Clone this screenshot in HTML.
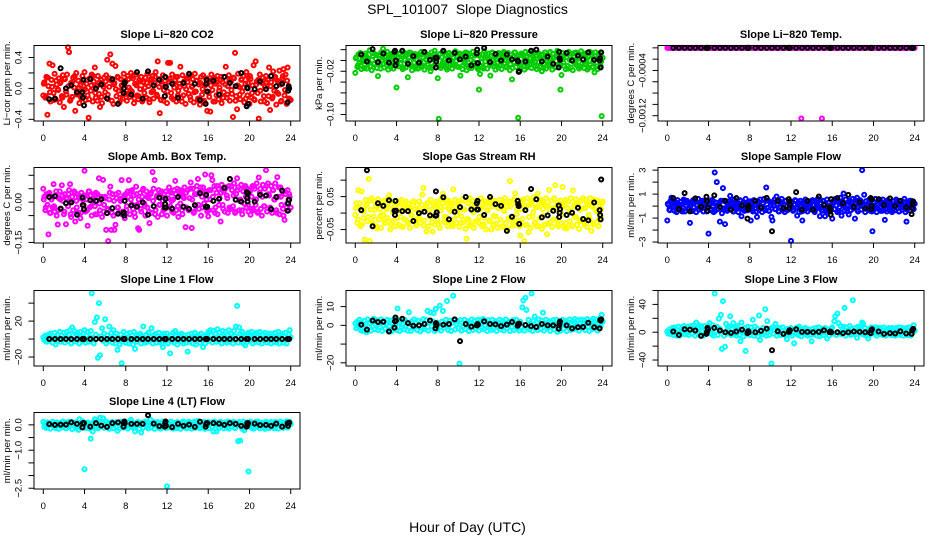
<!DOCTYPE html>
<html lang="en">
<head>
<meta charset="utf-8">
<title>SPL_101007 Slope Diagnostics</title>
<style>
html,body{margin:0;padding:0;background:#fff;}
svg{display:block;font-family:"Liberation Sans",Arial,sans-serif;}
text{fill:#000;white-space:pre;}
</style>
</head>
<body>
<svg id="chart" width="936" height="540" viewBox="0 0 936 540" xmlns="http://www.w3.org/2000/svg">
<text x="467.5" y="14" font-size="14" text-anchor="middle">SPL_101007  Slope Diagnostics</text>
<text x="467.5" y="532" font-size="14" text-anchor="middle">Hour of Day (UTC)</text>
</svg>
<script>
const hours=[
0,.1,.2,.3,.4,.5,.6,.7,.8,.9,1,1.1,1.2,1.3,1.4,1.5,1.6,1.7,1.8,1.9,
2,2.1,2.2,2.3,2.4,2.5,2.6,2.7,2.8,2.9,3,3.1,3.2,3.3,3.4,3.5,3.6,3.7,3.8,3.9,
4,4.1,4.2,4.3,4.4,4.5,4.6,4.7,4.8,4.9,5,5.1,5.2,5.3,5.4,5.5,5.6,5.7,5.8,5.9,
6,6.1,6.2,6.3,6.4,6.5,6.6,6.7,6.8,6.9,7,7.1,7.2,7.3,7.4,7.5,7.6,7.7,7.8,7.9,
8,8.1,8.2,8.3,8.4,8.5,8.6,8.7,8.8,8.9,9,9.1,9.2,9.3,9.4,9.5,9.6,9.7,9.8,9.9,
10,10.1,10.2,10.3,10.4,10.5,10.6,10.7,10.8,10.9,11,11.1,11.2,11.3,11.4,11.5,11.6,11.7,11.8,11.9,
12,12.1,12.2,12.3,12.4,12.5,12.6,12.7,12.8,12.9,13,13.1,13.2,13.3,13.4,13.5,13.6,13.7,13.8,13.9,
14,14.1,14.2,14.3,14.4,14.5,14.6,14.7,14.8,14.9,15,15.1,15.2,15.3,15.4,15.5,15.6,15.7,15.8,15.9,
16,16.1,16.2,16.3,16.4,16.5,16.6,16.7,16.8,16.9,17,17.1,17.2,17.3,17.4,17.5,17.6,17.7,17.8,17.9,
18,18.1,18.2,18.3,18.4,18.5,18.6,18.7,18.8,18.9,19,19.1,19.2,19.3,19.4,19.5,19.6,19.7,19.8,19.9,
20,20.1,20.2,20.3,20.4,20.5,20.6,20.7,20.8,20.9,21,21.1,21.2,21.3,21.4,21.5,21.6,21.7,21.8,21.9,
22,22.1,22.2,22.3,22.4,22.5,22.6,22.7,22.8,22.9,23,23.1,23.2,23.3,23.4,23.5,23.6,23.7,23.8,23.9,24];

const extraHours=[
.05,.25,.45,.65,.85,1.05,1.25,1.45,1.65,1.85,
2.05,2.25,2.45,2.65,2.85,3.05,3.25,3.45,3.65,3.85,
4.05,4.25,4.45,4.65,4.85,5.05,5.25,5.45,5.65,5.85,
6.05,6.25,6.45,6.65,6.85,7.05,7.25,7.45,7.65,7.85,
8.05,8.25,8.45,8.65,8.85,9.05,9.25,9.45,9.65,9.85,
10.05,10.25,10.45,10.65,10.85,11.05,11.25,11.45,11.65,11.85,
12.05,12.25,12.45,12.65,12.85,13.05,13.25,13.45,13.65,13.85,
14.05,14.25,14.45,14.65,14.85,15.05,15.25,15.45,15.65,15.85,
16.05,16.25,16.45,16.65,16.85,17.05,17.25,17.45,17.65,17.85,
18.05,18.25,18.45,18.65,18.85,19.05,19.25,19.45,19.65,19.85,
20.05,20.25,20.45,20.65,20.85,21.05,21.25,21.45,21.65,21.85,
22.05,22.25,22.45,22.65,22.85,23.05,23.25,23.45,23.65,23.85];

const blackHours=[.58,1.13,1.68,2.2,2.72,3.27,3.8,3.85,3.9,3.95,4.56,5.11,5.63,6.18,6.7,7.25,7.78,7.82,7.86,7.9,8.54,9.09,9.64,10.16,10.71,11.26,11.78,11.82,11.86,11.9,12.5,13.07,13.6,14.14,14.7,15.2,15.75,15.8,15.85,15.9,16.5,17.05,17.56,18.1,18.66,19.2,19.73,19.78,19.82,19.86,20.5,21.03,21.6,22.1,22.6,23.17,23.7,23.75,23.8,23.85];

const xTicks=[0,4,8,12,16,20,24];
const noExtra=[];

const co2Values=[
-.09,.08,-.12,.15,-.34,.03,.32,-.17,.11,.30,-.06,.19,-.14,.05,-.01,.13,-.18,.09,-.10,.17,
-.24,.12,-.04,.18,.53,.47,-.16,.07,-.11,.14,.01,-.29,.2,-.08,.1,-.19,.04,-.13,.16,-.02,
.21,-.15,.06,-.09,-.38,.13,-.03,.18,-.17,.09,.27,-.12,.03,.16,-.07,-.24,.11,-.19,.05,.14,
-.05,.17,.37,-.14,.02,.44,.1,.32,-.2,.07,.29,-.1,.15,-.03,-.18,.12,.04,-.13,.19,-.07,
.09,-.16,.16,.01,-.11,.2,-.04,.13,-.19,.06,.18,-.09,-.14,.11,-.01,.15,-.17,.08,-.06,.14,
-.12,.19,.03,-.18,.1,-.05,.16,-.13,.07,.21,-.08,.35,.12,-.32,-.15,.05,.17,-.02,-.1,.14,
-.19,.33,.09,.33,-.06,.18,-.14,.01,.11,-.17,.15,-.03,.06,.28,-.12,.17,-.09,.03,-.2,.13,
.08,-.07,.16,-.15,.02,.12,-.18,.19,-.04,.1,-.13,.05,-.21,.15,-.08,.17,-.16,.04,.12,-.29,
.1,-.11,-.3,.18,-.02,-.17,.14,.06,-.09,.16,-.14,.01,.11,-.19,.08,-.05,.15,.28,-.12,.03,
.17,-.16,.09,-.07,-.37,.13,.46,-.1,-.27,.19,.02,-.14,.11,-.04,.16,-.18,.06,.21,-.09,.14,
-.2,.12,-.12,.04,.3,-.15,.35,.09,-.06,-.39,.18,-.17,.07,.14,-.1,.02,.16,-.19,.11,.27,
-.28,.08,-.13,.22,-.03,.15,-.21,.1,-.07,.23,.05,-.16,.13,.25,-.09,.18,-.2,.27,.01,-.14,-.15];
const co2Extra=[
.06,-.1,.14,-.05,.02,-.15,.1,-.02,.07,-.12,
.13,-.08,.03,-.14,.09,.16,-.06,.01,-.11,.08,
-.01,.11,-.14,.04,.16,-.06,-.16,.08,-.11,.02,
.09,-.08,.13,-.16,.05,-.01,.14,-.12,.03,.1,
-.07,.12,-.02,.16,-.13,.04,-.1,.09,-.15,.01,
.07,-.14,.12,-.03,.15,-.1,.02,.09,-.16,.05,
-.04,.12,-.12,.06,.15,-.09,.02,-.17,.09,-.01,
.14,-.11,.03,-.05,.1,-.15,.07,-.01,-.18,.13,
-.06,.04,.12,-.17,.08,-.03,.15,-.12,.05,-.08,
.1,-.02,.14,-.16,.04,-.08,.12,.01,-.13,.07,
.16,-.06,-.14,.05,.11,-.03,.14,-.17,.08,-.1,
.03,-.11,.13,-.05,.08,-.17,.16,-.02,.1,-.13];
const co2Black=[-.14,-.13,.26,0,.04,-.05,-.05,-.12,.11,-.22,.12,0,.05,-.13,.12,-.2,-.06,0,.06,.08,-.08,.21,-.13,.22,.04,.11,-.1,.15,.02,.02,.06,-.12,.07,.19,.06,-.15,-.2,.06,.11,-.04,.1,-.08,.15,.07,.03,.2,-.23,.01,0,-.2,-.01,.09,-.01,.16,.03,.06,-.18,-.03,.03,0];
const co2Ticks=[.4,.2,0,-.2,-.4];
const co2TickLabels=['0.4','','0.0','','−0.4'];

const pressureValues=[
-.023,.006,-.012,.011,-.004,.014,-.016,.002,.009,-.008,.013,-.015,.004,-.002,.019,-.011,-.018,.008,-.006,.012,
.003,-.014,-.029,.01,-.007,.015,.001,.022,-.013,.007,-.003,.016,-.017,.005,-.009,.012,-.001,-.015,.009,.014,
-.05,.004,-.011,.013,-.006,.008,-.016,.015,.001,-.013,.01,-.031,.006,-.008,.014,-.018,.003,-.004,.012,-.012,
.007,-.015,.011,-.002,.016,-.009,.005,-.017,.013,.001,-.007,.01,-.013,-.02,.015,.003,-.01,.018,-.005,.008,
-.033,-.108,.012,-.014,.006,-.003,.016,-.011,.009,-.017,.002,.014,-.006,.011,-.015,.005,-.009,.017,-.001,.008,
-.012,.013,-.028,.004,-.016,.01,-.005,.015,-.018,.007,-.01,.012,.001,-.014,.016,-.003,.009,-.008,.014,-.016,
-.054,-.025,.005,.011,-.012,.017,-.002,.008,-.015,.013,.003,-.028,-.007,.015,-.011,.006,-.017,.01,-.004,.014,
-.009,.012,-.016,.002,.016,-.006,.009,-.013,.014,.001,-.018,.011,-.035,.007,-.003,.015,-.012,.005,-.106,.01,
-.015,.013,-.005,.008,-.017,.016,.001,-.01,.012,-.007,.004,-.014,.017,.002,-.011,.009,-.016,.014,-.003,.006,
-.012,-.02,.011,-.006,.015,-.015,.003,.009,-.009,.016,-.002,-.017,.012,.005,-.013,.008,.018,-.007,-.011,-.054,
-.027,.014,-.004,.01,-.016,.006,-.01,.016,.001,-.013,.012,-.018,.008,-.005,.015,-.009,.003,-.015,.011,.017,
-.006,.009,-.014,.013,-.001,-.017,.007,.016,-.008,.011,-.012,.004,-.022,.015,-.004,-.016,.012,.002,-.01,-.103,.005];
const pressureExtra=[
.004,-.009,.012,-.002,-.014,.008,.001,-.011,.014,-.006,
.01,-.004,-.015,.006,.013,-.008,.002,-.012,.011,-.001,
-.007,.012,.003,-.013,.009,-.003,.015,-.01,.005,-.015,
.011,-.005,-.012,.014,.002,-.008,.007,-.014,.012,-.002,
.006,-.01,.015,-.004,-.013,.009,.001,-.007,.013,-.011,
.003,.012,-.009,-.002,.014,-.014,.007,-.005,.011,-.012,
.009,-.003,-.015,.012,.004,-.009,.014,-.006,.002,-.013,
.01,-.001,.013,-.011,.005,-.007,-.014,.015,.003,-.004,
-.009,.011,.001,-.013,.014,-.006,.007,-.002,-.011,.012,
.004,-.014,.009,-.008,.015,-.003,.006,-.012,.013,-.005,
.002,-.01,.012,-.015,.007,-.001,.014,-.008,.004,-.012,
.011,-.006,.003,-.014,.015,-.003,.008,-.011,.013,-.002];
const pressureBlack=[.011,-.002,.021,-.003,.013,-.004,.016,.018,-.009,0,.018,-.006,.008,-.004,.016,.001,.005,-.013,-.002,.005,.018,0,.014,.002,.007,-.009,.013,.02,-.005,-.005,.023,-.003,.012,0,.011,.002,0,-.002,-.021,-.02,-.002,.018,.02,-.002,.007,-.006,-.013,.016,.004,.001,.014,0,.009,.002,.015,.001,0,.004,-.013,.015];
const pressureTicks=[.02,0,-.02,-.04,-.06,-.08,-.1];
const pressureTickLabels=['','','−0.02','','','','−0.10'];

const licorTempValues=[
0,0,0,0,0,0,0,0,0,0,0,0,0,0,0,0,0,0,0,0,
0,0,0,0,0,0,0,0,0,0,0,0,0,0,0,0,0,0,0,0,
0,0,0,0,0,0,0,0,0,0,0,0,0,0,0,0,0,0,0,0,
0,0,0,0,0,0,0,0,0,0,0,0,0,0,0,0,0,0,0,0,
0,0,0,0,0,0,0,0,0,0,0,0,0,0,0,0,0,0,0,0,
0,0,0,0,0,0,0,0,0,0,0,0,0,0,0,0,0,0,0,0,
0,0,0,0,0,0,0,0,0,0,-.00125,0,0,0,0,0,0,0,0,0,
0,0,0,0,0,0,0,0,0,0,-.00125,0,0,0,0,0,0,0,0,0,
0,0,0,0,0,0,0,0,0,0,0,0,0,0,0,0,0,0,0,0,
0,0,0,0,0,0,0,0,0,0,0,0,0,0,0,0,0,0,0,0,
0,0,0,0,0,0,0,0,0,0,0,0,0,0,0,0,0,0,0,0,
0,0,0,0,0,0,0,0,0,0,0,0,0,0,0,0,0,0,0,0,0];
const licorTempBlack=[0,0,0,0,0,0,0,0,0,0,0,0,0,0,0,0,0,0,0,0,0,0,0,0,0,0,0,0,0,0,0,0,0,0,0,0,0,0,0,0,0,0,0,0,0,0,0,0,0,0,0,0,0,0,0,0,0,0,0,0];
const licorTempTicks=[0,-.0002,-.0004,-.0006,-.0008,-.001,-.0012];
const licorTempTickLabels=['','','−0.0004','','','','−0.0012'];

const boxTempValues=[
.05,.02,-.03,.03,-.01,-.12,.035,-.04,.01,-.02,.067,-.035,.025,-.05,-.083,.015,.04,-.025,.063,.005,
-.045,.03,-.082,.012,-.015,.045,.067,-.055,.02,-.03,.04,-.072,.005,.03,-.04,.015,-.06,.035,-.01,.025,
.117,-.035,.01,-.088,.04,-.02,.025,-.05,.005,.03,-.015,.035,-.045,.02,.089,-.03,.012,-.055,.083,-.01,
.02,-.103,-.03,-.145,.01,.058,-.103,.03,-.05,-.103,-.084,.015,-.02,.035,-.04,.005,.082,-.035,.02,-.06,
.03,-.015,.04,.082,-.045,.01,.045,-.025,.025,-.055,.058,-.01,-.097,-.103,.035,-.035,.02,.05,-.005,-.05,
.04,-.02,.015,-.078,.03,-.04,.112,.05,.082,-.03,.02,-.055,.045,-.01,.035,-.045,.005,.03,-.025,.04,
-.05,.015,.055,-.015,.035,-.035,.01,.045,.079,-.03,.05,-.055,.025,-.005,.04,-.045,.02,.055,-.093,-.02,
.045,-.03,.015,.073,-.096,.05,-.04,.03,-.015,.06,.086,-.025,.04,-.05,.02,.055,-.005,.103,.035,-.035,
-.053,.045,.01,.1,.082,-.03,.06,-.02,.035,-.045,.05,.015,-.072,.065,-.01,.04,-.035,.055,.025,-.04,
.06,.086,-.025,.045,-.015,.07,-.04,.03,.089,.055,-.03,.01,.065,-.045,.04,-.005,.06,-.02,.05,-.035,
.045,-.047,.02,.06,-.03,.05,-.01,.07,-.04,.092,.035,-.025,-.05,.065,-.015,.05,.119,-.035,.07,.025,
-.02,.06,-.04,.045,.01,.07,-.03,.093,.02,-.045,.055,-.01,.04,-.05,-.066,.03,-.02,.045,-.03,.02,-.02];
const boxTempExtra=[
.01,-.02,.03,-.04,.02,-.015,.04,-.03,.01,.025,
-.035,.015,.03,-.045,.005,.035,-.02,.02,-.04,.01,
.025,-.03,.04,-.015,.01,-.045,.03,-.005,.02,-.035,
.015,-.025,.035,-.04,.005,.03,-.02,.012,-.045,.025,
-.03,.02,.04,-.01,-.04,.03,.01,-.025,.045,-.015,
.02,-.035,.035,.005,-.045,.025,-.01,.04,-.03,.015,
-.02,.04,.005,-.04,.03,-.015,.045,-.03,.015,.035,
-.025,.05,.01,-.035,.03,-.01,.055,-.02,.04,.01,
-.03,.045,.02,-.04,.06,-.01,.035,-.025,.05,.015,
-.02,.06,.025,-.035,.045,.005,-.03,.055,.02,-.01,
.04,-.025,.06,.01,-.035,.05,.02,-.015,.06,.03,
-.03,.045,.01,-.04,.055,.02,-.025,.04,-.005,.03];
const boxTempBlack=[.019,.022,-.024,-.004,-.001,-.047,.017,-.011,-.011,-.027,.007,.005,.011,-.041,-.022,-.043,-.041,-.038,-.05,.005,-.012,-.017,-.001,-.047,-.015,.017,-.02,-.007,.012,-.02,-.024,.019,-.017,-.025,-.011,.033,-.017,.027,-.017,-.017,.005,.012,.053,.086,.009,.002,.037,.016,.002,.033,.002,.027,.025,-.026,.019,.043,-.032,-.005,.009,.009];
const boxTempTicks=[.1,.05,0,-.05,-.1,-.15];
const boxTempTickLabels=['','','0.00','','','−0.15'];

const rhValues=[
-.005,.03,-.03,.069,.015,-.04,.066,.005,-.015,-.081,.04,.025,-.025,.104,-.085,.01,.045,-.035,-.01,.035,
.02,-.047,.042,-.02,.012,-.045,.03,-.005,.038,-.03,.02,-.015,.045,.054,-.05,.025,-.025,.01,.035,-.04,
.005,.03,-.035,.018,-.012,.04,-.042,.022,-.02,.035,.008,-.03,.028,-.045,.015,-.008,.034,-.025,.012,-.038,
.025,-.015,.036,-.03,.005,.056,.076,-.022,.018,-.056,.03,-.04,.01,.04,-.01,-.056,.025,-.035,.015,.035,
-.02,.03,-.045,.008,.045,.059,-.028,.02,-.012,.038,-.04,.012,.03,-.035,.025,.072,-.02,.04,-.03,.005,
.035,-.042,.018,-.01,.042,-.028,.01,-.048,-.078,.03,-.02,.045,-.035,.015,.038,-.045,.008,.028,-.025,.04,
-.03,.012,.045,-.04,.025,-.015,.035,-.05,.01,.03,-.025,.042,-.05,.02,-.035,.038,-.01,.025,-.045,.015,
.04,-.02,.03,-.042,.008,.045,-.03,.02,-.048,.035,.097,-.015,.028,-.038,.042,.06,-.025,.012,.04,-.04,
-.068,.03,-.018,.042,-.085,.015,-.035,.045,-.058,.025,-.045,.035,-.01,.048,-.03,.018,-.04,.059,.025,-.015,
.04,-.048,.012,.03,-.035,.045,-.064,.022,.07,-.028,.038,-.042,.015,.045,.085,-.02,.03,-.04,.01,.038,
-.03,.079,.025,-.045,.04,-.047,.015,.035,-.025,.045,-.038,.069,.02,-.012,.042,-.035,.028,-.048,.01,.038,
-.02,.045,-.03,.015,.04,-.042,.028,-.015,.045,-.054,.02,-.035,.04,.01,-.028,.038,-.04,.025,-.01,.03,.035];
const rhExtra=[
.015,-.02,.03,-.035,.005,.022,-.012,.038,-.028,.01,
-.04,.025,-.008,.032,-.022,.012,.04,-.032,.002,.02,
-.015,.035,-.04,.01,.028,-.025,.018,-.005,.036,-.03,
.008,-.018,.025,-.038,.014,.032,-.01,-.028,.022,.004,
-.035,.018,.03,-.012,-.025,.038,.006,-.04,.02,-.006,
.028,-.03,.012,.036,-.018,-.038,.024,.002,-.026,.033,
-.012,.018,-.035,.03,.008,-.022,.038,-.008,-.032,.015,
.026,-.04,.006,.034,-.016,.02,-.03,.04,-.004,-.024,
.012,.036,-.036,.022,-.012,.03,.002,-.028,.018,-.04,
.034,-.008,.024,-.032,.01,.038,-.02,.016,-.036,.028,
-.004,.02,-.03,.036,.006,-.04,.026,-.014,.032,-.024,
.014,-.036,.03,-.006,.022,-.03,.036,.004,-.02,.012];
const rhBlack=[.009,.13,-.04,.03,.022,.039,.007,-.006,.037,.007,.006,.006,-.024,0,.004,-.007,-.008,.066,-.007,.002,.048,-.019,.004,.018,.049,.011,.03,.011,.037,.011,-.006,.049,.027,.022,-.054,-.011,.037,.027,.021,-.033,.009,.073,.042,-.013,-.007,.007,.023,-.012,.001,.012,-.006,.001,.016,-.018,-.022,.032,.009,-.006,-.019,.102];
const rhTicks=[.1,.05,0,-.05];
const rhTickLabels=['','0.05','','−0.05'];

const sampleFlowValues=[
-1.2,.1,-.3,.4,.7,-.1,.3,-.4,.2,-.5,.5,0,-.2,.35,-.35,.15,.55,-.45,.05,.45,
-.25,.3,-1.4,.2,-.4,.5,-.1,.35,-.5,.1,.6,-.3,.25,-.2,.45,-.45,.05,.4,-.15,.3,
-2.3,.15,-.35,.5,-.05,-.5,2.8,.3,2,-.25,.1,-1.3,.45,-.6,1.5,-.2,-1.5,.35,-.4,.05,
.4,.85,-.3,.2,-.45,.55,0,-.15,.3,-.5,.15,.45,-.85,-.25,.25,-.4,.6,.05,-.35,.35,
-.1,-1.2,.2,-.45,.5,-.2,.1,-.9,.4,-.3,.55,-.05,-.5,.25,.6,-.35,1.55,-.15,.45,-.4,
.3,-.9,-1.2,.05,.55,-.25,.8,.2,-.45,.4,-.1,.6,-.35,.15,-.5,.45,0,-.3,.25,-.2,
-2.9,.35,-.4,.1,.5,-.15,-.8,.25,-.5,.45,-.25,-1.2,.3,-.35,.55,.05,-.45,.2,-.1,.4,
-.3,.5,.1,-.5,.35,-.2,.6,-.05,-.85,.25,-.4,.45,.15,-.85,-.3,.55,-.15,.3,-.45,.1,
-1.05,.4,-.25,.6,.05,-.5,.35,-.1,.7,-.8,.2,1.05,-.4,.55,-.2,.1,-.7,.45,-.35,.25,
.6,-.15,-1.05,.3,.7,-.45,.15,.5,-.3,3,.05,.95,-.5,.4,-.2,.25,.55,-.4,.1,-2.1,
.35,-.25,.6,-.5,.15,.45,-.1,-.4,.3,.55,-.3,-1.15,.2,-.45,.5,0,.35,-.2,-.5,.4,
.1,-.35,.55,-.15,.25,-.45,.45,.05,-.3,.35,.6,-.5,-1.3,.2,-.1,.45,-.4,.15,.3,-.25,.2];
const sampleFlowExtra=[
.2,-.35,.45,-.05,.3,-.2,.1,-.45,.4,0,
-.15,.25,-.4,.5,.05,-.3,.35,-.1,.2,-.45,
.15,-.25,.4,-.4,.05,.3,-.15,.45,-.3,.1,
-.05,.35,-.45,.2,-.2,.5,.05,-.35,.25,-.1,
.4,-.3,.1,-.45,.3,-.05,.2,-.2,.45,-.4,
.05,.35,-.25,.15,-.45,.3,-.1,.4,-.35,.2,
0,-.3,.45,-.15,.25,-.45,.1,.35,-.2,.05,
.4,-.4,.2,-.1,.5,-.3,.1,-.45,.3,-.05,
.25,-.25,.45,-.4,.15,.35,-.1,-.45,.3,.05,
-.2,.5,-.35,.1,.25,-.05,.4,-.3,.15,-.45,
.3,-.15,.05,.45,-.4,.2,-.25,.35,-.05,-.35,
.15,.4,-.45,.25,-.1,.3,-.3,.05,.45,-.2];
const sampleFlowBlack=[.67,-.25,1.08,-.44,.64,-.06,.78,.42,-.39,-.11,.89,-.08,.44,-.3,.67,.06,-1.05,-.06,-.25,.03,.44,-.14,.69,-2.1,.42,-.17,.58,-.17,.39,.11,1.17,-.3,.44,-.3,.8,.08,-.11,-.3,-.72,.58,.67,.25,.94,-.06,.33,-.19,.67,-.25,0,.56,.58,.08,.64,0,.42,-.11,-.67,-.17,.17,.39];
const sampleFlowTicks=[3,2,1,0,-1,-2,-3];
const sampleFlowTickLabels=['3','','1','','−1','','−3'];

const line1Values=[
2,-1,4,-3,1,5,-2,6,0,-4,3,7,-6,-2,5,1,8,-3,4,-1,
7,-4,2,8,-2,5,10,-5,13,-1,9,6,-3,7,1,-5,8,3,-2,6,
10,-4,4,8,-3,2,9,51,1,-5,19,5,24,-21,40,-18,3,12,-2,6,
22,-5,4,-2,14,0,7,-4,10,3,-5,6,-12,1,-6,5,-27,-3,8,2,
-4,6,1,-5,7,-2,4,-6,8,-11,2,-3,5,-1,6,-5,3,14,1,-4,
5,-3,7,-2,2,12,-5,4,-1,6,-4,3,7,-3,1,-5,-9,6,4,-2,
6,-5,1,-16,4,-2,7,-4,9,3,-6,1,5,-3,6,-2,-5,4,1,-4,
-14,5,-3,2,6,-5,1,7,-6,-2,5,3,-4,6,-1,-9,4,-5,2,5,
8,-2,10,4,-4,9,1,6,-3,11,-1,7,3,-5,9,2,-2,8,-4,5,
10,-3,6,1,-5,9,3,14,37,-4,13,6,-2,8,-5,2,-7,4,-3,7,
5,-2,8,-5,1,6,-3,7,2,-4,8,0,-5,5,-1,7,3,-4,6,-2,
4,-5,6,1,-3,7,-4,2,8,-5,5,-1,6,-4,3,7,-5,1,5,10,2];
const line1Black=[0,0,0,0,0,0,0,0,0,0,0,0,0,0,0,0,0,0,0,0,0,0,0,0,0,0,0,0,0,0,0,0,0,0,0,0,0,0,0,0,0,0,0,0,0,0,0,0,0,0,0,0,0,0,0,0,0,0,0,0];
const line1Ticks=[40,20,0,-20];
const line1TickLabels=['','20','','−20'];

const line2Values=[
1,-1.5,2,-.5,3,-2.5,1.5,-3,.5,2.5,-2,-3.7,3.2,-1,1,-2.8,2.2,-.5,3.5,-2,
.5,2.8,-2.5,1.8,-1,3.2,-3,0,2.2,-1.8,1,3,-2.8,-.5,2.5,-3.2,1.2,-1.5,3.4,.2,
-2.5,9,1.5,-3,2.8,-1,.5,-2.2,3,-.2,1.8,-2.8,7,.8,-3,2.2,-1.5,3.2,-.8,1.2,
-2.5,2.5,0,-3.2,1.5,-1.2,3.3,-2,.8,2.8,7.7,-2.8,1.2,6.9,-.5,2.2,6.5,-3,8.8,1.5,
-2,.5,10.5,-2.8,2,7.7,-1.2,1,3,13,-2.5,.2,2.5,-3,1.5,15.8,3,-2.2,.8,2.2,
-1.5,-20.4,2.8,-2.8,1.2,-.5,3,-2,.5,2.2,-3,1.5,-1,3.2,-2.5,0,2.5,-1.8,1,3,
-2.8,.8,2.5,-1.2,3.4,-2.2,.2,1.8,-3,2.8,-.5,1.2,-2.5,3,-1.5,.5,2.2,-3,1.5,-.8,
3,-2.2,1,2.5,-2.8,-.2,3.2,-1.5,.8,2,-3,1.5,-.8,2.8,-2.5,.2,3,-1.8,1.2,-2.8,
2,-.8,9.6,13.3,-2.8,14.7,8.2,-1.5,3,-2.2,.8,17,-3,2.5,4.7,-1,1.8,-2.5,3.2,.5,
-2,2.5,6.8,-2.8,1,3,-1.2,.2,2.2,-3,1.5,-.5,2.8,-2.2,.8,3,-3.5,-1.5,2,-2.8,
1,3,-1.8,.5,2.5,-3,1.5,-.5,3.2,-2.5,.8,2.2,-2,3.4,-1,.2,2.8,-2.8,1.2,3,
-1.5,.5,2.8,-2.5,1.8,3.4,-.8,-3,1,2.5,-2,3.6,.2,-1.2,3,-2.8,1.5,3.8,-.5,5.6,2];
const line2Black=[.35,-2.3,2.6,1.8,1.9,-3.3,-1.2,2.1,4.2,2.5,3.5,1.2,-.2,0,.7,2.6,-1.6,1.2,0,.4,.35,.7,3.2,-8.4,.7,-.7,0,0,.7,.4,2.1,.7,.5,-.4,.4,1.8,-.2,.7,.5,.9,.2,-.4,-.9,.7,0,0,-1.8,0,1.2,2.1,0,-1.6,-1,-.9,1.4,-1,-1.6,2.8,2.5,3.2];
const line2Ticks=[10,0,-10,-20];
const line2TickLabels=['10','0','','−20'];

const line3Values=[
1,-2,4,-3,2,6,-4,7,0,-5,3,8,-5,-2,6,1,9,-3,5,-1,
8,-4,3,9,-2,6,10,-5,14,-1,7,10,-3,8,2,-5,9,4,-2,7,
9,13,4,-3,10,-5,55.7,2,8,-4,19.5,5,25,-24,44.8,-5,-21,12,-2,6,
8,23,-4,5,13,-2,7,-5,9,3,-4,-13,14,1,-6,6,-27,-3,8,2,
-4,7,1,18,-5,8,-2,5,-6,24,-11,3,-3,6,-1,33,-5,16,4,-4,
5,-45,7,-2,3,12,-5,4,-1,6,-4,2,7,-3,1,-5,-10,5,3,-2,
6,-5,1,-16,4,-2,7,-4,8,3,-6,1,5,-3,6,-2,-5,4,1,-4,
-13,5,-3,2,6,-5,1,7,-6,-2,5,3,-4,6,-1,-9,4,-5,2,5,
7,-2,16,23,-4,27,13,-1,9,-3,5,8,35,-5,7,2,-2,9,-4,5,
46,-3,6,1,-8,8,3,7,-2,14,12,-4,6,-5,2,-9,4,-3,7,-1,
5,-2,7,-5,1,6,-3,6,2,-4,7,0,-5,5,-1,6,3,-4,6,-2,
4,-5,6,1,-3,7,-4,2,6,-5,5,-1,6,-4,3,7,-5,1,5,10,2];
const line3Black=[1,-4,4.3,3.8,2.4,-5.2,-2.4,.5,6.2,4.3,6.2,2.4,0,-1,1,3.8,-1.4,.5,1.4,0,0,1.9,5.2,-26,1.4,-2.4,.5,.5,2.9,2.9,4.3,.5,.5,0,.5,2.9,0,1,.5,0,0,-1.4,0,1,.5,0,-1.4,2.4,3.3,4.3,1,-2.4,-1.4,-1.9,1.4,-1.9,-2.4,2.4,3.3,4.8];
const line3Ticks=[60,40,20,0,-20,-40];
const line3TickLabels=['','40','','0','','−40'];

const line4Values=[
.12,-.08,.05,-.12,.1,-.03,.08,-.15,.02,.12,-.06,.06,-.13,.1,-.01,-.16,.07,.03,-.1,.13,
-.05,.09,-.14,.04,.11,-.09,.01,.12,-.17,.06,-.04,.1,-.12,.08,-.2,.22,-.07,.03,.14,-.11,
-1.75,.07,-.13,.1,-.02,-.15,-.55,.05,-.26,.12,.22,-.09,.04,-.14,.11,.28,-.06,.08,.26,-.12,
.02,.13,-.1,.06,-.16,.09,-.04,.11,-.13,.03,.1,-.08,-.24,.07,-.14,.12,-.02,.05,-.11,.13,
-.07,.1,-.15,.03,.11,.2,-.09,.06,-.13,-.26,.08,-.04,.12,-.16,.02,-.3,.09,-.11,.05,.13,
-.06,.1,-.14,.07,.2,-.1,.03,.12,-.16,.05,-.03,.11,-.12,.08,-.15,.01,.13,-.08,.06,-.13,
-2.42,.09,.04,-.11,.12,-.05,-.15,.08,.02,-.13,.11,-.07,.06,-.16,.1,-.02,.13,-.1,.04,-.14,
.08,.12,-.06,.03,-.15,.1,-.09,.13,-.12,.05,.15,-.04,-.14,.09,.01,-.11,.12,-.16,.07,-.03,
.11,-.13,.06,.1,-.08,-.26,.13,-.15,-.26,.03,.09,-.11,.12,-.05,.07,-.14,.1,-.02,-.1,.13,
-.15,.06,.1,-.07,.03,.12,-.13,.09,-.04,-.64,.11,-.62,.05,-.16,.13,-.22,-.09,.07,.1,-1.84,
-.05,.12,-.12,.08,-.15,.03,.11,-.09,.13,-.02,-.14,.07,.1,-.11,.05,-.16,.12,-.06,.09,-.13,
.03,.11,-.1,.07,-.14,.12,-.04,.09,-.15,.06,.13,-.08,.02,-.12,.1,-.05,.14,-.11,.07,.12,.03];
const line4Black=[.03,0,.01,.01,.1,.04,-.1,.07,.07,.07,-.07,.07,-.03,-.08,.07,.1,-.07,.07,.13,.07,.04,.04,.04,.38,.05,-.05,-.07,.07,.13,-.04,-.09,.04,-.04,.01,-.08,.12,-.07,.03,.07,.07,.07,.05,0,.07,.04,-.04,-.07,.07,0,.07,.05,-.01,0,-.04,.05,-.07,.07,-.04,.07,.09];
const line4Ticks=[0,-.5,-1,-1.5,-2,-2.5];
const line4TickLabels=['0.0','','−1.0','','','−2.5'];

const SVG_NS='http://www.w3.org/2000/svg';
const chart=document.getElementById('chart');
const MARK_RADIUS=2;
const MARK_STROKE=2;

function xScale(hour,left){
  const width=266,xMin=-.9,xMax=24.9;
  return left+(hour-xMin)/(xMax-xMin)*width;
}
function yScale(value,top,height,yMin,yMax){
  return top+(yMax-value)/(yMax-yMin)*height;
}
function drawPanel(key,title,yLabel,color,left,top,height,yMin,yMax,values,extra,black,ticks,tickLabels){
  const group=document.createElementNS(SVG_NS,'g');
  
  
  chart.appendChild(group);

  const count=Math.min(hours.length,values.length);
  for(let i=0;i<count;i++){
    const c=document.createElementNS(SVG_NS,'circle');
    
    
    c.setAttribute('cx',xScale(hours[i],left));
    c.setAttribute('cy',yScale(values[i],top,height,yMin,yMax));
    c.setAttribute('r',MARK_RADIUS);
    c.setAttribute('fill','none');
    c.setAttribute('stroke',color);
    c.setAttribute('stroke-width',MARK_STROKE);
    group.appendChild(c);
  }
  const extraCount=Math.min(extraHours.length,extra.length);
  for(let i=0;i<extraCount;i++){
    const c=document.createElementNS(SVG_NS,'circle');
    
    
    c.setAttribute('cx',xScale(extraHours[i],left));
    c.setAttribute('cy',yScale(extra[i],top,height,yMin,yMax));
    c.setAttribute('r',MARK_RADIUS);
    c.setAttribute('fill','none');
    c.setAttribute('stroke',color);
    c.setAttribute('stroke-width',MARK_STROKE);
    group.appendChild(c);
  }
  const blackCount=Math.min(blackHours.length,black.length);
  for(let i=0;i<blackCount;i++){
    const c=document.createElementNS(SVG_NS,'circle');
    
    
    c.setAttribute('cx',xScale(blackHours[i],left));
    c.setAttribute('cy',yScale(black[i],top,height,yMin,yMax));
    c.setAttribute('r',MARK_RADIUS);
    c.setAttribute('fill','none');
    c.setAttribute('stroke','#000');
    c.setAttribute('stroke-width',MARK_STROKE);
    group.appendChild(c);
  }

  const box=document.createElementNS(SVG_NS,'rect');
  
  
  box.setAttribute('x',left);
  box.setAttribute('y',top);
  box.setAttribute('width',266);
  box.setAttribute('height',height);
  box.setAttribute('fill','none');
  box.setAttribute('stroke','#000');
  box.setAttribute('stroke-width',1);
  group.appendChild(box);

  xTicks.forEach(function(t){
    const px=xScale(t,left);
    const tick=document.createElementNS(SVG_NS,'line');
    
    
    tick.setAttribute('x1',px);
    tick.setAttribute('x2',px);
    tick.setAttribute('y1',top+height);
    tick.setAttribute('y2',top+height+5);
    tick.setAttribute('stroke','#000');
    group.appendChild(tick);
    const lab=document.createElementNS(SVG_NS,'text');
    
    
    lab.setAttribute('x',px);
    lab.setAttribute('y',top+height+20);
    lab.setAttribute('font-size','9.5');
    lab.setAttribute('text-anchor','middle');
    lab.textContent=String(t);
    group.appendChild(lab);
  });

  ticks.forEach(function(t,i){
    const py=yScale(t,top,height,yMin,yMax);
    const tick=document.createElementNS(SVG_NS,'line');
    
    
    tick.setAttribute('x1',left-5.5);
    tick.setAttribute('x2',left);
    tick.setAttribute('y1',py);
    tick.setAttribute('y2',py);
    tick.setAttribute('stroke','#000');
    group.appendChild(tick);
    if(tickLabels[i]){
      const lab=document.createElementNS(SVG_NS,'text');
      
      
      lab.setAttribute('font-size','9.5');
      lab.setAttribute('text-anchor','middle');
      lab.setAttribute('transform','translate('+(left-12.5)+' '+py+') rotate(-90)');
      lab.textContent=tickLabels[i];
      group.appendChild(lab);
    }
  });

  const titleEl=document.createElementNS(SVG_NS,'text');
  
  
  titleEl.setAttribute('x',left+133);
  titleEl.setAttribute('y',top-7.5);
  titleEl.setAttribute('font-size','11');
  titleEl.setAttribute('font-weight','bold');
  titleEl.setAttribute('text-anchor','middle');
  titleEl.textContent=title;
  group.appendChild(titleEl);

  const yTitle=document.createElementNS(SVG_NS,'text');
  
  
  yTitle.setAttribute('font-size','9.5');
  yTitle.setAttribute('text-anchor','middle');
  yTitle.setAttribute('transform','translate('+(left-24)+' '+(top+height/2)+') rotate(-90)');
  yTitle.textContent=yLabel;
  group.appendChild(yTitle);
}

drawPanel('licor-co2','Slope Li−820 CO2','Li−cor ppm per min.','#ff0000',34,45.5,75.5,-.4215,.555,co2Values,co2Extra,co2Black,co2Ticks,co2TickLabels);
drawPanel('licor-pressure','Slope Li−820 Pressure','kPa per min.','#00cd00',346,45.5,75.5,-.112,.0277,pressureValues,pressureExtra,pressureBlack,pressureTicks,pressureTickLabels);
drawPanel('licor-temp','Slope Li−820 Temp.','degrees C per min.','#ff00ff',658,45.5,75.5,-.001294,.0000418,licorTempValues,noExtra,licorTempBlack,licorTempTicks,licorTempTickLabels);
drawPanel('amb-box-temp','Slope Amb. Box Temp.','degrees C per min.','#ff00ff',34,167.5,75.5,-.152,.129,boxTempValues,boxTempExtra,boxTempBlack,boxTempTicks,boxTempTickLabels);
drawPanel('gas-stream-rh','Slope Gas Stream RH','percent per min.','#ffff00',346,167.5,75.5,-.0909,.1384,rhValues,rhExtra,rhBlack,rhTicks,rhTickLabels);
drawPanel('sample-flow','Slope Sample Flow','ml/min per min.','#0000ff',658,167.5,75.5,-3.08,3.22,sampleFlowValues,sampleFlowExtra,sampleFlowBlack,sampleFlowTicks,sampleFlowTickLabels);
drawPanel('line-1-flow','Slope Line 1 Flow','ml/min per min.','#00ffff',34,290.5,75.5,-30,54.07,line1Values,noExtra,line1Black,line1Ticks,line1TickLabels);
drawPanel('line-2-flow','Slope Line 2 Flow','ml/min per min.','#00ffff',346,290.5,75.5,-21.7,18.6,line2Values,noExtra,line2Black,line2Ticks,line2TickLabels);
drawPanel('line-3-flow','Slope Line 3 Flow','ml/min per min.','#00ffff',658,290.5,75.5,-48.6,60,line3Values,noExtra,line3Black,line3Ticks,line3TickLabels);
drawPanel('line-4-flow','Slope Line 4 (LT) Flow','ml/min per min.','#00ffff',34,412.5,76.5,-2.53,.487,line4Values,noExtra,line4Black,line4Ticks,line4TickLabels);
</script>
</body>
</html>
